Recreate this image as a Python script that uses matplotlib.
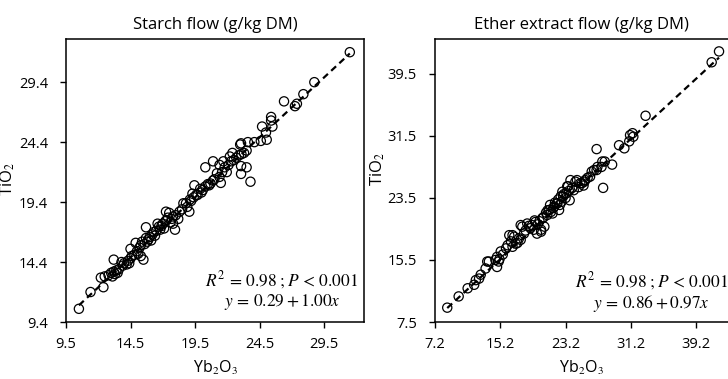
import matplotlib
matplotlib.use("Agg")
import matplotlib.pyplot as plt
import numpy as np

plt.rcParams['font.family'] = ['Open Sans', 'DejaVu Sans']
plt.rcParams['mathtext.fontset'] = 'stix'

# ---- Starch flow data (Yb2O3 vs TiO2) ----
starch_x = [10.5, 11.4, 12.2, 12.4, 12.5, 12.8, 13.0, 13.1, 13.2, 13.3, 13.4, 13.5, 13.6, 13.2, 13.8,
            13.9, 14.0, 14.2, 14.4, 14.3, 14.5, 14.6, 14.5, 14.9, 14.8, 15.0, 15.1, 15.2, 15.3, 15.5,
            15.3, 15.4, 15.6, 15.7, 15.8, 15.9, 15.7, 16.0, 16.1, 16.2, 16.3, 16.4, 16.5, 16.6, 16.7,
            16.8, 16.9, 17.0, 17.1, 17.2, 17.25, 17.3, 17.4, 17.5, 17.6, 17.7, 17.8, 17.8, 17.95, 18.0,
            18.2, 18.3, 18.5, 18.6, 18.8, 18.9, 19.06, 19.1, 19.2, 19.3, 19.4, 19.45, 19.6, 19.7, 19.9,
            20.0, 20.1, 20.3, 20.5, 20.6, 20.7, 20.9, 20.9, 21.0, 21.2, 21.4, 21.4, 21.5, 21.6, 21.7,
            21.8, 21.96, 22.1, 22.2, 22.3, 22.4, 22.5, 22.7, 22.9, 23.0, 23.07, 23.07, 23.07, 23.1, 23.3,
            23.5, 23.5, 23.8, 23.6, 24.1, 24.6, 24.7, 25.0, 25.06, 25.4, 25.4, 25.5, 26.4, 27.25, 27.4,
            27.9, 28.75, 31.5, 20.3]
starch_y = [10.5, 11.9, 13.1, 12.3, 13.2, 13.3, 13.5, 13.2, 13.6, 13.4, 13.7, 13.5, 13.8, 14.6, 14.4,
            14.1, 14.3, 14.2, 14.3, 14.5, 14.7, 14.9, 15.5, 16.0, 15.0, 15.3, 15.1, 15.6, 14.9, 14.6,
            15.8, 16.1, 15.9, 16.4, 16.1, 16.3, 17.3, 16.5, 16.2, 16.7, 16.9, 16.6, 17.0, 17.6, 17.35,
            17.1, 17.4, 17.6, 17.2, 17.8, 18.6, 17.9, 18.1, 18.5, 17.7, 18.0, 18.2, 17.6, 17.1, 18.3,
            18.0, 18.6, 18.8, 19.3, 19.3, 19.0, 18.6, 19.6, 19.5, 20.1, 19.8, 20.8, 20.0, 20.0, 20.5,
            20.2, 20.4, 20.7, 20.9, 20.8, 20.95, 21.2, 22.8, 21.3, 21.8, 21.5, 22.5, 21.0, 21.9, 22.8,
            22.3, 21.9, 22.5, 23.2, 22.8, 23.5, 22.9, 23.1, 23.3, 24.2, 24.3, 22.4, 21.75, 23.4, 23.5,
            23.7, 22.3, 21.1, 24.4, 24.4, 24.5, 25.7, 25.2, 24.6, 26.5, 26.2, 25.7, 27.8, 27.4, 27.6,
            28.4, 29.4, 31.9, 22.3]
starch_fit = (0.29, 1.00)  # intercept, slope

# ---- Ether extract flow data ----
ether_x = [8.7, 10.1, 11.2, 12.0, 12.2, 12.6, 12.8, 13.4, 13.6, 13.8, 14.6, 14.8, 14.8, 15.0, 15.1,
           15.25, 15.5, 15.9, 16.1, 16.3, 16.5, 16.7, 16.7, 16.9, 17.1, 17.3, 17.5, 17.7, 17.7, 17.9,
           18.1, 18.3, 18.5, 18.7, 18.9, 19.1, 19.3, 19.4, 19.5, 19.7, 19.8, 20.0, 20.2, 20.2, 20.35,
           20.5, 20.6, 20.8, 20.95, 21.0, 21.2, 21.3, 21.4, 21.6, 21.7, 21.8, 21.9, 22.1, 22.2, 22.3,
           22.4, 22.5, 22.6, 22.7, 22.8, 22.9, 23.0, 23.2, 23.3, 23.4, 23.5, 23.6, 23.7, 23.8, 24.0,
           24.2, 24.4, 24.6, 24.8, 25.0, 25.2, 25.4, 25.5, 25.6, 25.9, 26.2, 26.4, 26.7, 27.0, 27.1,
           27.6, 27.7, 28.0, 27.0, 27.8, 28.9, 29.75, 30.4, 31.0, 31.1, 31.4, 31.5, 33.0, 41.1, 42.0]
ether_y = [9.35, 10.8, 11.85, 12.3, 12.9, 13.1, 13.6, 14.4, 15.3, 15.3, 15.5, 15.9, 14.6, 15.3, 15.6,
           16.6, 16.2, 17.0, 17.4, 18.7, 17.9, 17.2, 18.7, 18.5, 17.6, 17.7, 18.3, 18.1, 20.0, 19.8,
           18.9, 19.3, 20.2, 19.9, 19.6, 20.0, 19.4, 20.6, 20.4, 18.9, 20.1, 20.5, 19.15, 19.4, 20.9,
           21.0, 19.8, 21.6, 21.3, 21.9, 21.95, 22.6, 21.7, 21.5, 22.2, 22.4, 22.9, 22.8, 22.8, 23.3,
           21.95, 22.6, 23.7, 23.0, 24.3, 23.7, 24.0, 23.5, 24.1, 25.0, 25.0, 24.4, 23.2, 25.8, 24.8,
           24.5, 25.6, 25.8, 24.9, 25.4, 25.4, 25.1, 25.6, 25.8, 26.1, 26.25, 26.9, 27.1, 27.1, 27.5,
           27.5, 28.2, 28.2, 29.8, 24.8, 27.8, 30.3, 29.9, 30.8, 31.6, 31.85, 31.4, 34.1, 41.0, 42.4]
ether_fit = (0.86, 0.97)

titles = ["Starch flow (g/kg DM)", "Ether extract flow (g/kg DM)"]
stats_line = r"$R^2\, =\, 0.98\;;P\, <\, 0.001$"
eq_lines = [r"$y\, =\, 0.29 + 1.00x$", r"$y\, =\, 0.86 + 0.97x$"]
starch_xticks = [9.5, 14.5, 19.5, 24.5, 29.5]
starch_yticks = [9.4, 14.4, 19.4, 24.4, 29.4]
ether_xticks = [7.2, 15.2, 23.2, 31.2, 39.2]
ether_yticks = [7.5, 15.5, 23.5, 31.5, 39.5]

W, H = 728, 379
fig = plt.figure(figsize=(W / 100, H / 100), dpi=100)

ax1 = fig.add_axes([66 / W, (H - 322) / H, (364 - 66) / W, (322 - 39) / H])
ax2 = fig.add_axes([435 / W, (H - 322) / H, (728 - 435) / W, (322 - 39) / H])

panels = [
    (ax1, starch_x, starch_y, starch_fit, starch_xticks, starch_yticks, (9.5, 32.6), (9.4, 33.0), True,
     (0.725, 0.112), 0.505),
    (ax2, ether_x, ether_y, ether_fit, ether_xticks, ether_yticks, (7.2, 43.1), (7.5, 44.0), False,
     (0.739, 0.105), 0.54),
]

for i, (ax, xs, ys, fit, xt, yt, xl, yl, right_spine, pt, ylab_y) in enumerate(panels):
    xs = np.array(xs)
    ys = np.array(ys)
    ax.scatter(xs, ys, s=44, facecolors='none', edgecolors='black', linewidths=0.9, zorder=2)
    xx = np.array([xs.min(), xs.max()])
    ax.plot(xx, fit[0] + fit[1] * xx, color='black', linestyle=(0, (3, 2)), linewidth=1.6, zorder=3)
    ax.set_xlim(*xl)
    ax.set_ylim(*yl)
    ax.set_xticks(xt)
    ax.set_yticks(yt)
    ax.set_xticklabels([f"{v:.1f}" for v in xt])
    ax.set_yticklabels([f"{v:.1f}" for v in yt])
    ax.tick_params(direction='out', length=4, width=1, labelsize=10.5, colors='black')
    ax.tick_params(axis='y', pad=9)
    ax.tick_params(axis='x', pad=7)
    for s in ax.spines.values():
        s.set_linewidth(1.1)
        s.set_color('black')
    if not right_spine:
        ax.spines['right'].set_visible(False)
    ax.set_title(titles[i], fontsize=12, pad=7)
    ax.set_xlabel(r"Yb$_2$O$_3$", fontsize=11.5, labelpad=5)
    ax.set_ylabel(r"TiO$_2$", fontsize=12)
    ax.yaxis.set_label_coords(-0.164, ylab_y)
    ax.text(pt[0], pt[1], stats_line + "\n" + eq_lines[i], transform=ax.transAxes,
            ha='center', va='center', multialignment='center', fontsize=12.5, linespacing=1.05)

fig.savefig("out.png", dpi=100)
